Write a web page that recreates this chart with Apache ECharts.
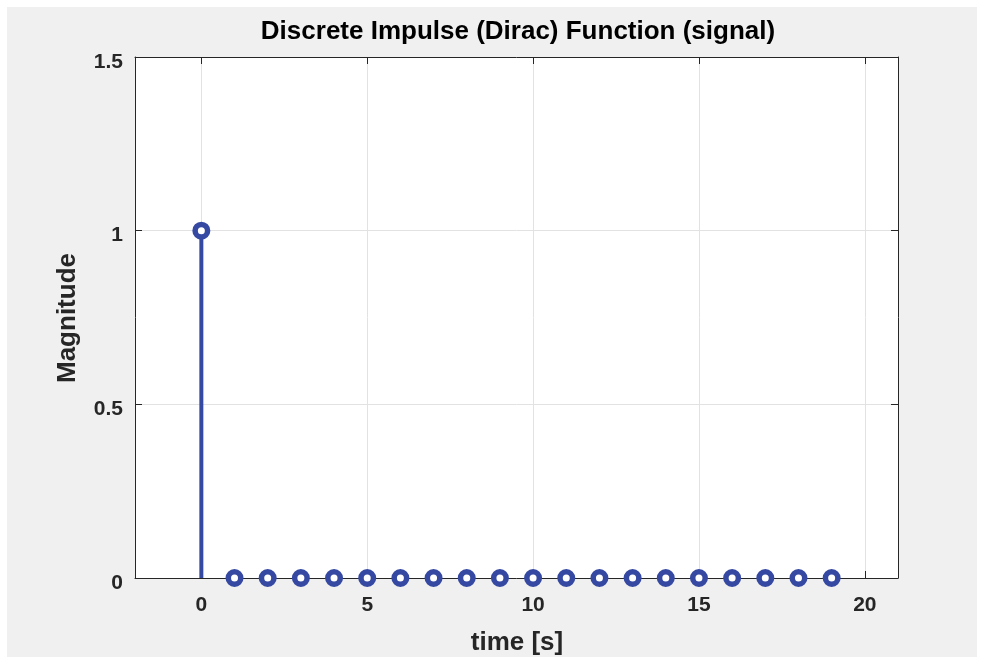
<!DOCTYPE html>
<html>
<head>
<meta charset="utf-8">
<script src="https://cdn.jsdelivr.net/npm/echarts@6/dist/echarts.min.js"></script>
<style>
html,body{margin:0;padding:0;background:#ffffff;}
#chart{width:981px;height:657px;}
</style>
</head>
<body>
<div id="chart"></div>
<script>
// Data
const timeSamples = [0,1,2,3,4,5,6,7,8,9,10,11,12,13,14,15,16,17,18,19];
const magnitudes  = [1,0,0,0,0,0,0,0,0,0,0,0,0,0,0,0,0,0,0,0];
const xTickValues = [0,5,10,15,20];
const yTickValues = [0,0.5,1,1.5];
const titleText = 'Discrete Impulse (Dirac) Function (signal)';
const xLabel = 'time [s]';
const yLabel = 'Magnitude';

const FONT = 'Liberation Sans';
const TXT = '#262626';
const BLUE = '#3549a3';

const pts = timeSamples.map((t,i)=>[t, magnitudes[i]]);

const chart = echarts.init(document.getElementById('chart'), null, {renderer:'canvas'});

const baseX = {
  type:'value', min:-2, max:21,
  axisLine:{show:true, onZero:false, lineStyle:{color:TXT, width:1}},
  axisTick:{show:true, inside:true, length:7, customValues:xTickValues, lineStyle:{color:TXT}},
  splitLine:{show:false},
};
const baseY = {
  type:'value', min:0, max:1.5, interval:0.5,
  axisLine:{show:true, onZero:false, lineStyle:{color:TXT, width:1}},
  axisTick:{show:true, inside:true, length:7, lineStyle:{color:TXT}},
  splitLine:{show:false},
};

chart.setOption({
  backgroundColor:'#ffffff',
  animation:false,
  graphic:[
    {type:'rect', z:-100, silent:true, shape:{x:7,y:7,width:970,height:650}, style:{fill:'#f0f0f0'}},
    {type:'text', z:10, style:{text:titleText, x:518, y:32, align:'center', verticalAlign:'middle', font:'bold 26px "'+FONT+'"', fill:'#000000'}},
    {type:'text', z:10, style:{text:xLabel, x:517, y:643, align:'center', verticalAlign:'middle', font:'bold 26px "'+FONT+'"', fill:TXT}},
    {type:'text', z:10, rotation:Math.PI/2, x:68, y:318, style:{text:yLabel, x:0, y:0, align:'center', verticalAlign:'middle', font:'bold 26px "'+FONT+'"', fill:TXT}}
  ],
  grid:{left:135, top:57, width:763, height:521, show:true, backgroundColor:'#ffffff', borderWidth:0, containLabel:false},
  xAxis:[
    Object.assign({}, baseX, {position:'bottom',
      axisLabel:{show:true, customValues:xTickValues, margin:17, color:TXT, fontSize:21, fontWeight:'bold', fontFamily:FONT},
      splitLine:{show:true, lineStyle:{color:'#e2e2e2', width:1}}
    }),
    Object.assign({}, baseX, {position:'top', axisLabel:{show:false}})
  ],
  yAxis:[
    Object.assign({}, baseY, {position:'left',
      axisLabel:{show:true, margin:12, color:TXT, fontSize:21, fontWeight:'bold', fontFamily:FONT, verticalAlign:'top', lineHeight:10},
      splitLine:{show:true, lineStyle:{color:'#e2e2e2', width:1}}
    }),
    Object.assign({}, baseY, {position:'right', axisLabel:{show:false}})
  ],
  series:[
    {type:'bar', xAxisIndex:0, yAxisIndex:0, data:pts, barWidth:4, itemStyle:{color:BLUE}, z:3},
    {type:'scatter', xAxisIndex:0, yAxisIndex:0, data:pts, symbol:'circle', symbolSize:12.5, clip:false,
     itemStyle:{color:'#ffffff', borderColor:BLUE, borderWidth:5.5, opacity:1}, z:4}
  ]
});
</script>
</body>
</html>
